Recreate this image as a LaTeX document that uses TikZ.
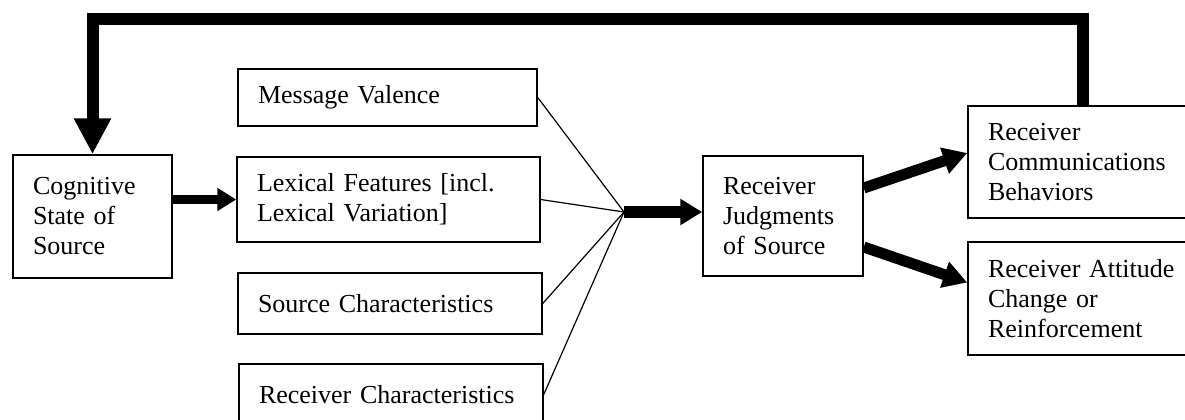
\documentclass[tikz,border=0pt]{standalone}
\usepackage{fontspec}
\setmainfont{Liberation Serif}
\usepackage{tikz}
\usetikzlibrary{arrows.meta,positioning,calc}

\begin{document}
\begin{tikzpicture}[x=0.5pt,y=-0.5pt,
    box/.style 2 args={draw, line width=0.75pt, inner xsep=10pt, inner ysep=0pt,
        text width=#1, minimum height=#2, align=left,
        font=\fontsize{13}{15}\selectfont},
    feed/.style={line width=0.6pt},
    smallarrow/.style={line width=4.5pt, -{Triangle[length=9.5pt,width=11pt]}},
    hubarrow/.style={line width=6pt, -{Triangle[length=11pt,width=12.5pt]}},
    outarrow/.style={line width=5.5pt, -{Triangle[length=12pt,width=13pt]}},
    fback/.style={line width=6pt, -{Triangle[length=18pt,width=17.5pt]}}]

    \useasboundingbox (0,0) rectangle (1185,419);
    \clip (0,0) rectangle (1185,419);

    % Source side
    \node[box={59.5pt}{61.5pt}] (cog) at (92.5,216.5) {Cognitive\\State of\\Source};

    % Inputs
    \node[box={129.5pt}{28.5pt}] (msg) at (387.5,97.5) {Message Valence};
    \node[box={131.5pt}{42.5pt}] (lex) at (388.5,199.5) {Lexical Features [incl.\\Lexical Variation]};
    \node[box={132pt}{30.5pt}] (src) at (390,303.5) {Source Characteristics};
    \node[box={132pt}{30.5pt}] (rch) at (391,394.5) {Receiver Characteristics};

    % Receiver side
    \node[box={60pt}{60pt}] (jud) at (783,216) {Receiver\\Judgments\\of Source};
    \node[box={95pt}{56pt}] (rcb) at (1083,162) {Receiver\\Communications\\Behaviors};
    \node[box={95pt}{56.5pt}] (rac) at (1083,298.5) {Receiver Attitude\\Change or\\Reinforcement};

    \coordinate (hub) at (624,212);
    \coordinate (fbline) at (0,19);

    % Converging lines
    \draw[feed] (msg.east) -- (hub);
    \draw[feed] (lex.east) -- (hub);
    \draw[feed] (src.east) -- (hub);
    \draw[feed] (rch.east) -- (hub);

    % Arrows
    \draw[smallarrow] (cog.east |- lex.west) -- (lex.west);
    \draw[hubarrow] (hub) -- (hub -| jud.west);
    \draw[outarrow] ([yshift=14pt]jud.east) -- ([yshift=4.5pt]rcb.west);
    \draw[outarrow] ([yshift=-15.5pt]jud.east) -- ([yshift=8pt]rac.west);

    % Feedback loop
    \draw[fback] (rcb.north) |- (cog.north |- fbline) -- (cog.north);
\end{tikzpicture}
\end{document}
